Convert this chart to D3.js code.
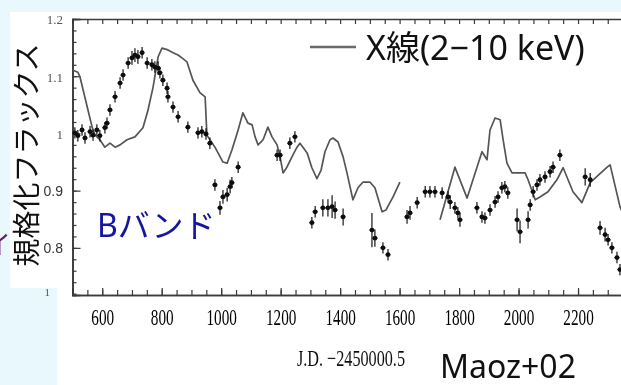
<!DOCTYPE html>
<html>
<head>
<meta charset="utf-8">
<script src="https://cdn.jsdelivr.net/npm/d3@7"></script>
<style>
  html, body { margin: 0; padding: 0; background: #e9f8fd; }
  svg { display: block; }
</style>
</head>
<body>
<svg id="chart" width="621" height="385"></svg>
<script>
// X-ray (2-10 keV) light curve: [J.D. - 2450000.5, normalized flux], two segments around the gap
const xraySegA = [
  [500,1.111],[518,1.107],[525,1.099],[552,1.041],[566,1.011],[576,0.997],[592,0.989],[609,0.976],
  [626,0.983],[643,0.976],[660,0.980],[683,0.989],[710,0.994],[737,1.010],[754,1.041],[771,1.081],
  [788,1.134],[801,1.149],[821,1.146],[838,1.141],[855,1.137],[868,1.132],[885,1.125],[905,1.093],
  [929,1.071],[946,1.064],[952,0.997],[979,0.976],[1006,0.950],[1020,0.948],[1036,0.971],[1057,1.006],
  [1073,1.036],[1090,1.018],[1104,1.015],[1114,0.994],[1124,0.980],[1141,0.989],[1157,1.011],[1171,0.994],
  [1188,0.980],[1198,0.959],[1208,0.931],[1221,0.941],[1238,0.959],[1255,0.976],[1265,0.983],[1289,0.966],
  [1305,0.940],[1322,0.921],[1336,0.936],[1349,0.968],[1366,0.989],[1376,0.992],[1393,0.985],[1410,0.959],
  [1423,0.931],[1443,0.884],[1460,0.905],[1477,0.915],[1500,0.915],[1517,0.905],[1541,0.863],[1554,0.866],
  [1578,0.889],[1601,0.915]
];
const xraySegB = [
  [1736,0.849],[1786,0.941],[1827,0.887],[1877,0.968],[1894,0.954],[1904,1.006],[1921,1.027],[1938,1.024],
  [1948,0.989],[1961,0.948],[1978,0.931],[2022,0.931],[2032,0.919],[2056,0.884],[2072,0.889],[2099,0.898],
  [2129,0.919],[2150,0.940],[2183,0.898],[2213,0.879],[2241,0.914],[2298,0.941],[2308,0.945],[2341,0.872],
  [2375,0.830]
];

// B-band light curve: J.D. - 2450000.5, normalized flux, flux error
const bDays = [
  508,518,532,542,559,569,582,592,609,616,626,643,660,670,687,700,710,720,734,751,767,777,788,794,804,818,821,
  838,855,888,922,935,949,962,979,996,1006,1020,1030,1036,1057,1188,1198,1231,1248,1305,1316,1342,1359,1373,
  1383,1410,1507,1517,1544,1561,1625,1635,1659,1686,1702,1719,1743,1763,1770,1786,1796,1803,1860,1877,1887,
  1904,1921,1931,1944,1954,1964,1995,2005,2032,2039,2049,2062,2072,2089,2106,2116,2139,2224,2241,2274,2291,
  2301,2314,2331,2341
];
const bFlux = [
  1.001,0.996,1.006,0.992,1.003,0.997,1.006,0.996,1.010,1.018,1.041,1.064,1.088,1.102,1.123,1.132,1.137,1.134,
  1.141,1.123,1.120,1.116,1.114,1.106,1.093,1.079,1.064,1.046,1.029,1.011,1.001,1.003,0.999,0.983,0.910,0.870,
  0.889,0.893,0.907,0.914,0.941,0.962,0.962,0.983,0.994,0.844,0.863,0.870,0.870,0.872,0.866,0.854,0.831,0.817,
  0.800,0.788,0.854,0.861,0.879,0.898,0.898,0.898,0.896,0.889,0.880,0.870,0.861,0.849,0.870,0.854,0.852,0.866,
  0.880,0.889,0.905,0.907,0.896,0.849,0.828,0.849,0.875,0.898,0.910,0.919,0.924,0.933,0.941,0.962,0.924,0.919,
  0.835,0.823,0.814,0.800,0.783,0.762
];
const bErr = [
  0.010,0.010,0.010,0.010,0.010,0.010,0.010,0.010,0.010,0.010,0.010,0.010,0.010,0.010,0.010,0.012,0.012,0.012,
  0.010,0.010,0.010,0.010,0.012,0.010,0.010,0.010,0.010,0.010,0.010,0.010,0.010,0.010,0.010,0.010,0.010,0.012,
  0.012,0.012,0.012,0.010,0.010,0.010,0.010,0.010,0.010,0.010,0.010,0.015,0.015,0.020,0.015,0.015,0.030,0.015,
  0.010,0.010,0.012,0.012,0.010,0.010,0.010,0.010,0.010,0.010,0.012,0.010,0.010,0.012,0.010,0.010,0.010,0.010,
  0.010,0.010,0.010,0.010,0.010,0.020,0.020,0.015,0.010,0.010,0.010,0.010,0.010,0.010,0.010,0.010,0.015,0.012,
  0.012,0.012,0.010,0.010,0.010,0.010
];

const xTickLabels = [600, 800, 1000, 1200, 1400, 1600, 1800, 2000, 2200];
const yTickLabels = [0.8, 0.9, 1.0, 1.1, 1.2];

const svg = d3.select("#chart");

// background panels
svg.append("rect").attr("x", 10).attr("y", 12).attr("width", 611).attr("height", 276).attr("fill", "#ffffff");
svg.append("rect").attr("x", 57).attr("y", 286).attr("width", 564).attr("height", 99).attr("fill", "#ffffff");

const defs = svg.append("defs");
defs.append("filter").attr("id", "soft")
  .append("feGaussianBlur").attr("stdDeviation", 0.55);

const x = d3.scaleLinear().domain([500, 2400]).range([72.5, 637.5]);
const y = d3.scaleLinear().domain([0.7176, 1.2]).range([295, 19]);

const plot = svg.append("g").attr("filter", "url(#soft)");

// frame axes with inward ticks
const axisColor = "#3a3a3a";
function styleAxis(g) {
  g.select(".domain").attr("stroke", axisColor).attr("stroke-width", 1.6);
  g.selectAll(".tick line").attr("stroke", axisColor).attr("stroke-width", 1.2);
}
const minorX = d3.range(550, 2400, 50);
plot.append("g").attr("transform", "translate(0,295)")
  .call(d3.axisBottom(x).tickValues(minorX).tickSize(-5).tickFormat(""))
  .call(styleAxis);
plot.append("g").attr("transform", "translate(0,19)")
  .call(d3.axisTop(x).tickValues(minorX).tickSize(-5).tickFormat(""))
  .call(styleAxis);
const minorY = d3.range(0.72, 1.2, 0.02).map(v => +v.toFixed(2));
plot.append("g").attr("transform", "translate(72.5,0)")
  .call(d3.axisLeft(y).tickValues(minorY).tickSize(-4).tickFormat(""))
  .call(styleAxis);
plot.append("g").attr("transform", "translate(72.5,0)")
  .call(d3.axisLeft(y).tickValues(yTickLabels).tickSize(-8).tickFormat(""))
  .call(styleAxis);

// x tick labels (condensed serif)
const xl = plot.append("g").attr("transform", "translate(0,295)")
  .call(d3.axisBottom(x).tickValues(xTickLabels).tickSize(-7).tickPadding(30).tickFormat(d3.format("d")))
  .call(styleAxis);
xl.selectAll(".tick text")
  .attr("font-family", "'Liberation Serif', serif")
  .attr("font-size", 23)
  .attr("fill", "#000")
  .attr("dy", "0")
  .attr("textLength", d => String(d).length * 7.6)
  .attr("lengthAdjust", "spacingAndGlyphs");

// y tick labels
const yLab = plot.append("g");
yLab.selectAll("text").data(yTickLabels).join("text")
  .attr("x", 63)
  .attr("y", d => y(d))
  .attr("dy", d => d < 0.95 ? "0.36em" : "0.42em")
  .attr("text-anchor", "end")
  .attr("font-family", d => d < 0.95 ? "'Liberation Sans', sans-serif" : "'Liberation Serif', serif")
  .attr("font-size", d => d < 0.95 ? 14 : 13)
  .attr("fill", d => d < 0.95 ? "#333" : "#555")
  .text(d => d === 1 ? "1" : d3.format(".1f")(d));

// axis title
plot.append("text")
  .attr("x", 297).attr("y", 366)
  .attr("font-family", "'Liberation Serif', serif")
  .attr("font-size", 23)
  .attr("fill", "#111")
  .attr("textLength", 108)
  .attr("lengthAdjust", "spacingAndGlyphs")
  .text("J.D. −2450000.5");

// X-ray line
const line = d3.line().x(d => x(d[0])).y(d => y(d[1]));
const clip = defs.append("clipPath").attr("id", "frameClip");
clip.append("rect").attr("x", 72.5).attr("y", 19).attr("width", 560).attr("height", 276);
const data = plot.append("g").attr("clip-path", "url(#frameClip)");
[xraySegA, xraySegB].forEach(seg => {
  data.append("path").datum(seg)
    .attr("d", line)
    .attr("fill", "none")
    .attr("stroke", "#555")
    .attr("stroke-width", 1.7)
    .attr("stroke-linejoin", "round");
});

// B-band points with error bars
const bPts = bDays.map((d, i) => ({ d, f: bFlux[i], e: bErr[i] }));
const pg = data.append("g");
pg.selectAll("line.err").data(bPts).join("line")
  .attr("class", "err")
  .attr("x1", p => x(p.d)).attr("x2", p => x(p.d))
  .attr("y1", p => y(p.f - p.e)).attr("y2", p => y(p.f + p.e))
  .attr("stroke", "#111").attr("stroke-width", 1.2);
pg.selectAll("line.herr").data(bPts).join("line")
  .attr("class", "herr")
  .attr("x1", p => x(p.d) - 2.5).attr("x2", p => x(p.d) + 2.5)
  .attr("y1", p => y(p.f)).attr("y2", p => y(p.f))
  .attr("stroke", "#111").attr("stroke-width", 1.2);
pg.selectAll("circle").data(bPts).join("circle")
  .attr("cx", p => x(p.d)).attr("cy", p => y(p.f))
  .attr("r", 2.4).attr("fill", "#111");

// cropped label at the lower left corner
svg.append("text").attr("x", 50).attr("y", 296)
  .attr("font-family", "'Liberation Serif', serif").attr("font-size", 11)
  .attr("fill", "#555").attr("text-anchor", "end").text("1");

// legend
svg.append("line").attr("x1", 310).attr("x2", 356).attr("y1", 47).attr("y2", 47)
  .attr("stroke", "#6a6a6a").attr("stroke-width", 2.4);
svg.append("text").attr("x", 366).attr("y", 60)
  .attr("font-family", "'Noto Sans', 'Noto Sans CJK JP', sans-serif")
  .attr("font-size", 34).attr("fill", "#111")
  .text("X線(2−10 keV)");

// band label
svg.append("text").attr("x", 97).attr("y", 237)
  .attr("font-family", "'Noto Sans', 'Noto Sans CJK JP', sans-serif")
  .attr("font-size", 32).attr("fill", "#1515a0")
  .text("Bバンド");

// vertical axis title
svg.append("text")
  .attr("transform", "translate(37,155) rotate(-90)")
  .attr("text-anchor", "middle")
  .attr("font-family", "'Noto Sans CJK JP', sans-serif")
  .attr("font-size", 28).attr("fill", "#111")
  .text("規格化フラックス");

// partly hidden character at the left edge
svg.append("text").attr("x", -15).attr("y", 254)
  .attr("font-family", "'Noto Sans CJK JP', sans-serif")
  .attr("font-size", 26).attr("fill", "#6b1470")
  .text("イ");

// reference
svg.append("text").attr("x", 440).attr("y", 378)
  .attr("font-family", "'Noto Sans', sans-serif")
  .attr("font-size", 32).attr("fill", "#111")
  .text("Maoz+02");
</script>
</body>
</html>
